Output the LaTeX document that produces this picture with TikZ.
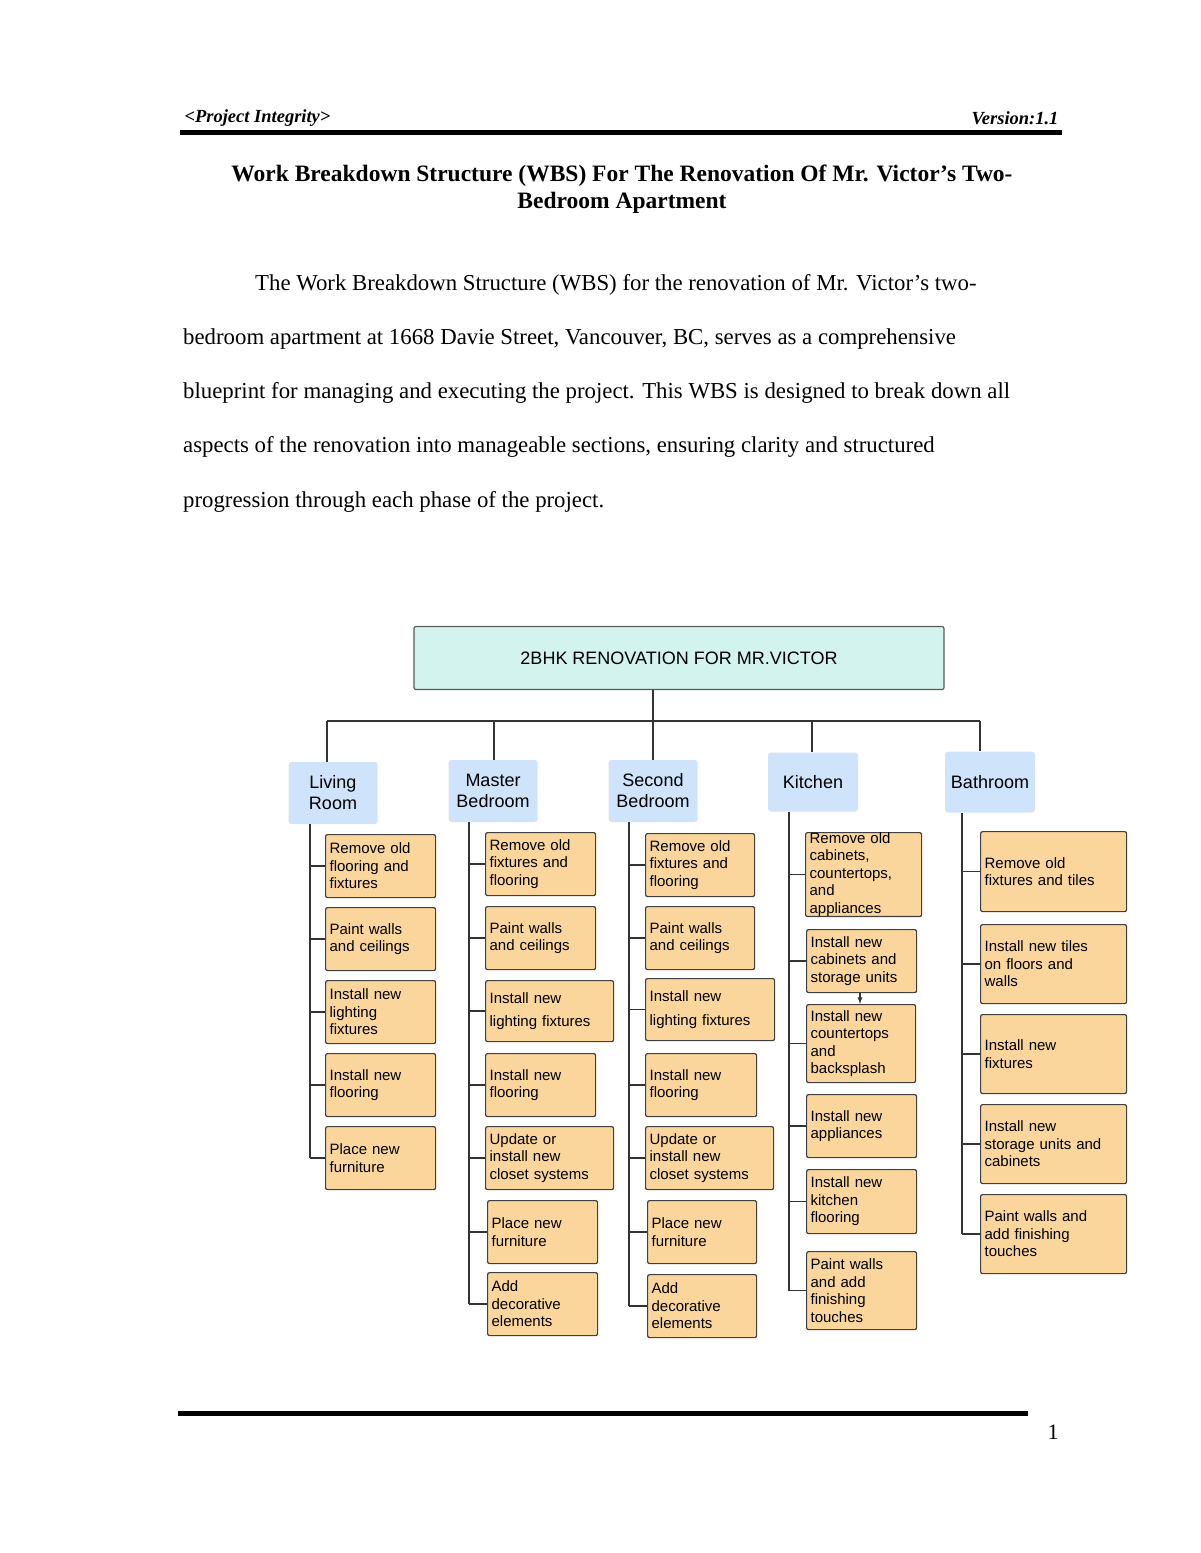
\documentclass[tikz,border=0pt]{standalone}
\usepackage{fontspec}
\setmainfont{Liberation Serif}
\setsansfont{Liberation Sans}
\definecolor{leafc}{HTML}{FBD69C}
\definecolor{catc}{HTML}{CFE3FA}
\definecolor{rootc}{HTML}{D3F3EE}
\begin{document}
\begin{tikzpicture}[x=1pt,y=-1pt,
  root/.style={draw=gray!70!black,fill=rootc,rounded corners=2pt,line width=1.2pt,font=\sffamily\fontsize{18}{21}\selectfont},
  cat/.style={fill=catc,rounded corners=3pt,font=\sffamily\fontsize{18}{21}\selectfont,align=center,inner sep=0pt},
  leaf/.style={draw=black!75,fill=leafc,rounded corners=2pt,line width=1.2pt,anchor=north west,align=left,inner xsep=4pt,inner ysep=0pt,font=\sffamily\fontsize{15}{17.5}\selectfont},
  ln/.style={line width=1.3pt,black!80}]
\useasboundingbox (0,0) rectangle (1200,1553);
\newcommand\leaf[6]{\node[leaf,minimum width={(#4-#2)*1pt},minimum height={(#5-#3)*1pt},text width={(#4-#2-4)*1pt}] (#1) at (#2,#3) {#6};}
% header
\node[anchor=west,font=\bfseries\itshape\fontsize{18.5}{22}\selectfont] (hl) at (181,118) {<Project Integrity>};
\node[anchor=east,font=\bfseries\itshape\fontsize{18.5}{22}\selectfont] (hr) at (1062,118) {Version:1.1};
\draw[line width=5pt] (180,132) -- (1062,132);
\node[align=center,font=\bfseries\fontsize{23.5}{27}\selectfont] (title) at (622,189) {Work Breakdown Structure (WBS) For The Renovation Of Mr. Victor's Two-\\Bedroom Apartment};
\begin{scope}[font=\fontsize{22.8}{26}\selectfont]
\node[anchor=west,inner sep=0] (p1) at (255,285) {The Work Breakdown Structure (WBS) for the renovation of Mr. Victor's two-};
\node[anchor=west,inner sep=0] (p2) at (183,339) {bedroom apartment at 1668 Davie Street, Vancouver, BC, serves as a comprehensive};
\node[anchor=west,inner sep=0] (p3) at (183,393) {blueprint for managing and executing the project. This WBS is designed to break down all};
\node[anchor=west,inner sep=0] (p4) at (183,447) {aspects of the renovation into manageable sections, ensuring clarity and structured};
\node[anchor=west,inner sep=0] (p5) at (183,502) {progression through each phase of the project.};
\end{scope}
\draw[line width=5pt] (178,1413) -- (1028,1413);
\node[font=\fontsize{22}{25}\selectfont] (pg) at (1053,1432) {1};
% root
\node[root,minimum width=530pt,minimum height=63pt] (R) at (679,658) {2BHK RENOVATION FOR MR.VICTOR};
\coordinate (bus) at (653,721);
\node[cat,minimum width=89pt,minimum height=62pt] (C1) at (333,793) {Living\\Room};
\node[cat,minimum width=89pt,minimum height=62pt] (C2) at (493,791) {Master\\Bedroom};
\node[cat,minimum width=89pt,minimum height=62pt] (C3) at (653,791) {Second\\Bedroom};
\node[cat,minimum width=90pt,minimum height=59pt] (C4) at (813,782) {Kitchen};
\node[cat,minimum width=90pt,minimum height=61pt] (C5) at (990,782) {Bathroom};
\coordinate (b1) at (327,721); \coordinate (b2) at (494,721); \coordinate (b4) at (812,721); \coordinate (b5) at (980,721);
\draw[ln] (bus |- R.south) -- (bus);
\draw[ln] (b1) -- (b5);
\draw[ln] (b1) -- (b1 |- C1.north);
\draw[ln] (b2) -- (b2 |- C2.north);
\draw[ln] (bus) -- (C3.north);
\draw[ln] (b4) -- (b4 |- C4.north);
\draw[ln] (b5) -- (b5 |- C5.north);
% Living room
\leaf{a1}{325}{834}{431}{897}{Remove old\\flooring and\\fixtures}
\leaf{a2}{325}{907}{431}{970}{Paint walls\\and ceilings}
\leaf{a3}{325}{980}{431}{1043}{Install new\\lighting\\fixtures}
\leaf{a4}{325}{1053}{431}{1116}{Install new\\flooring}
\leaf{a5}{325}{1126}{431}{1189}{Place new\\furniture}
% Master
\leaf{m1}{485}{832}{591}{895}{Remove old\\fixtures and\\flooring}
\leaf{m2}{485}{906}{591}{969}{Paint walls\\and ceilings}
\leaf{m3}{485}{980}{609}{1041}{Install new\\[6pt]lighting fixtures}
\leaf{m4}{485}{1053}{591}{1116}{Install new\\flooring}
\leaf{m5}{485}{1126}{609}{1189}{Update or\\install new\\closet systems}
\leaf{m6}{487}{1200}{593}{1263}{Place new\\furniture}
\leaf{m7}{487}{1272}{593}{1335}{Add\\decorative\\elements}
% Second
\leaf{s1}{645}{833}{750}{896}{Remove old\\fixtures and\\flooring}
\leaf{s2}{645}{906}{750}{969}{Paint walls\\and ceilings}
\leaf{s3}{645}{978}{770}{1040}{Install new\\[6pt]lighting fixtures}
\leaf{s4}{645}{1053}{752}{1116}{Install new\\flooring}
\leaf{s5}{645}{1126}{769}{1189}{Update or\\install new\\closet systems}
\leaf{s6}{647}{1200}{752}{1263}{Place new\\furniture}
\leaf{s7}{647}{1274}{752}{1337}{Add\\decorative\\elements}
% Kitchen
\leaf{k1}{805}{832}{917}{911}{Remove old\\cabinets,\\countertops, and\\appliances}
\leaf{k2}{806}{929}{912}{992}{Install new\\cabinets and\\storage units}
\leaf{k3}{806}{1004}{911}{1082}{Install new\\countertops\\and\\backsplash}
\leaf{k4}{806}{1094}{912}{1157}{Install new\\appliances}
\leaf{k5}{806}{1169}{912}{1233}{Install new\\kitchen\\flooring}
\leaf{k6}{806}{1251}{912}{1329}{Paint walls\\and add\\finishing\\touches}
% Bathroom
\leaf{t1}{980}{831}{1122}{911}{Remove old\\fixtures and tiles}
\leaf{t2}{980}{924}{1122}{1003}{Install new tiles\\on floors and\\walls}
\leaf{t3}{980}{1014}{1122}{1093}{Install new\\fixtures\\[14pt]}
\leaf{t4}{980}{1104}{1122}{1183}{Install new\\storage units and\\cabinets}
\leaf{t5}{980}{1194}{1122}{1273}{Paint walls and\\add finishing\\touches}
% spines
\coordinate (xa) at (310,0); \coordinate (xm) at (469,0); \coordinate (xs) at (629,0);
\coordinate (xk) at (789,0); \coordinate (xt) at (962,0);
\draw[ln] (xa |- C1.south) -- (xa |- a5.west);
\draw[ln] (xm |- C2.south) -- (xm |- m7.west);
\draw[ln] (xs |- C3.south) -- (xs |- s7.west);
\draw[ln] (xk |- C4.south) -- (xk |- k6.west);
\draw[ln] (xt |- C5.south) -- (xt |- t5.west);
\foreach \n in {a1,a2,a3,a4,a5} \draw[ln] (xa |- \n.west) -- (\n.west);
\foreach \n in {m1,m2,m3,m4,m5,m6,m7} \draw[ln] (xm |- \n.west) -- (\n.west);
\foreach \n in {s1,s2,s3,s4,s5,s6,s7} \draw[ln] (xs |- \n.west) -- (\n.west);
\foreach \n in {k1,k2,k3,k4,k5,k6} \draw[ln] (xk |- \n.west) -- (\n.west);
\foreach \n in {t1,t2,t3,t4,t5} \draw[ln] (xt |- \n.west) -- (\n.west);
\draw[ln,-latex] (k2.south -| 860,0) -- (k3.north -| 860,0);
\end{tikzpicture}
\end{document}
